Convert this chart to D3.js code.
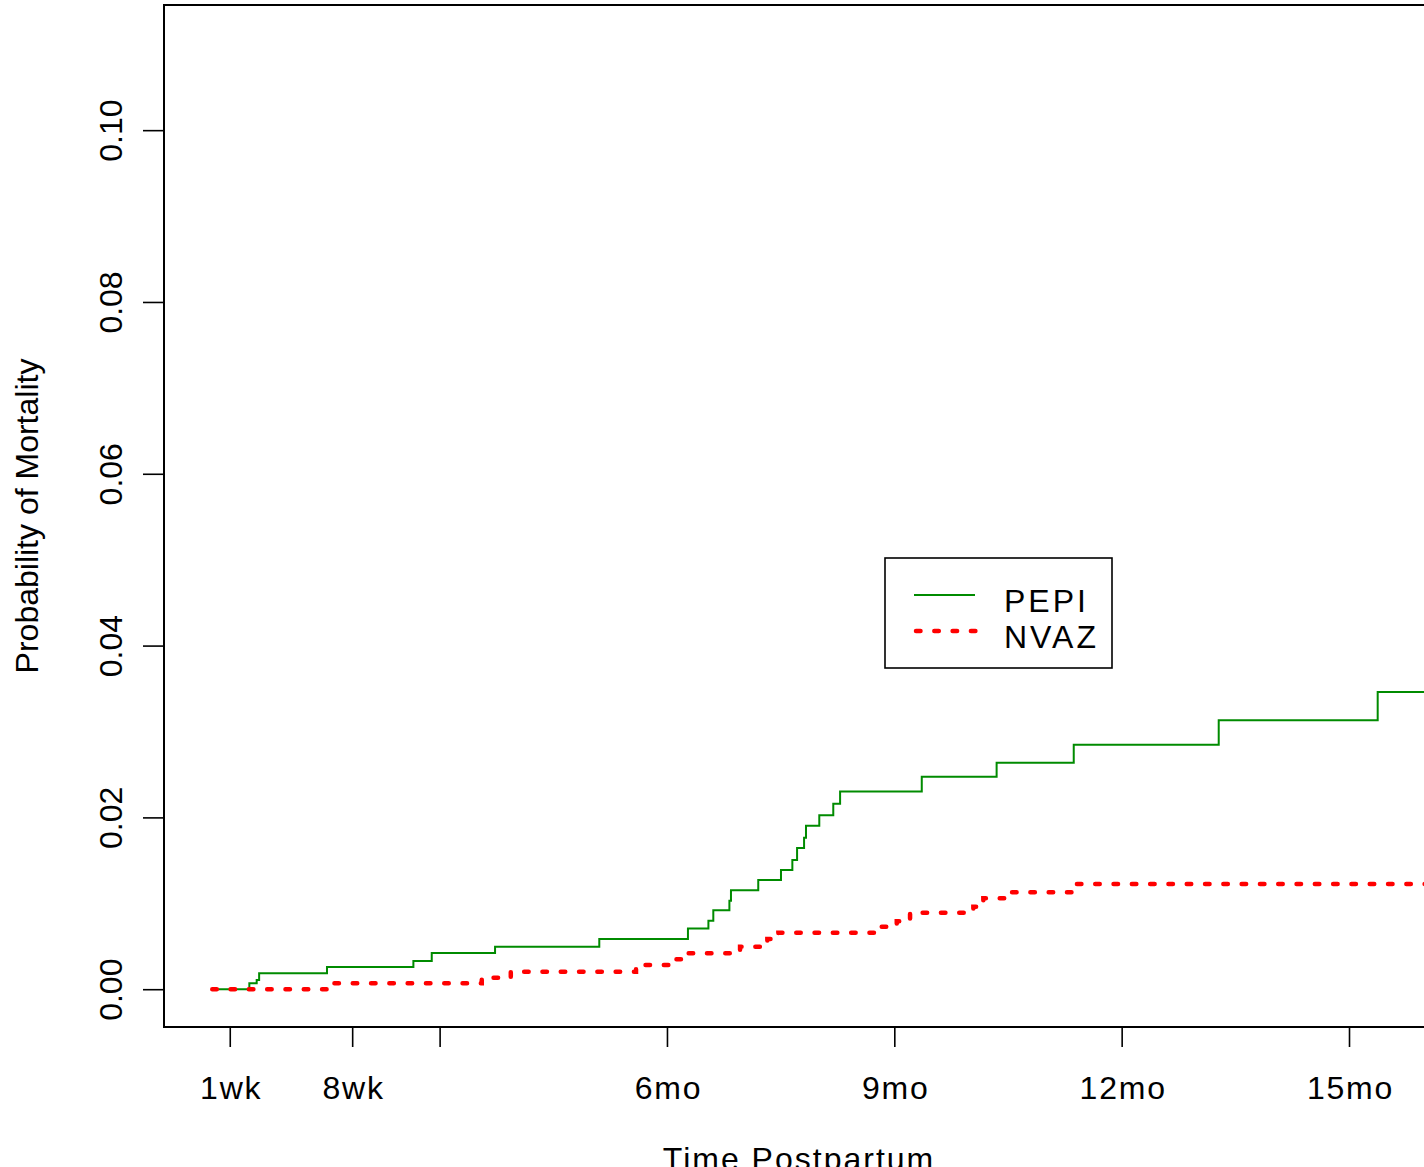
<!DOCTYPE html>
<html>
<head>
<meta charset="utf-8">
<script src="https://d3js.org/d3.v7.min.js"></script>
<style>
  body { margin: 0; background: #fff; }
  svg { display: block; }
  text { font-family: "Liberation Sans", Arial, sans-serif; fill: #000; }
</style>
</head>
<body>
<div id="chart"></div>
<script>
// time in weeks postpartum, cumulative probability of mortality
var pepiTimes = [0, 2.12, 2.54, 2.68, 6.56, 11.5, 12.55, 16.17, 22.13, 27.2, 28.37, 28.65, 29.57, 29.66,
  31.22, 32.52, 33.17, 33.44, 33.84, 33.95, 34.71, 35.51, 35.9, 40.57, 44.85, 49.26, 57.55, 66.64, 69.5];
var pepiValues = [0, 0.00069, 0.00107, 0.00185, 0.00258, 0.00328, 0.00421, 0.00495, 0.00584, 0.00707,
  0.00797, 0.00918, 0.0103, 0.01153, 0.01271, 0.01388, 0.01504, 0.01644, 0.01764, 0.01903, 0.02024,
  0.02159, 0.02302, 0.02474, 0.02637, 0.02846, 0.0313, 0.0346, 0.0346];

var nvazTimes = [0, 6.7, 15.41, 17.07, 24.23, 26.18, 26.84, 30.18, 31.74, 32.37, 37.9, 39.14, 39.9,
  43.52, 44.09, 45.33, 49.42, 69.5];
var nvazValues = [0, 0.00069, 0.00134, 0.00204, 0.00282, 0.00348, 0.00419, 0.00495, 0.00584, 0.00658,
  0.00728, 0.0079, 0.00891, 0.0096, 0.01059, 0.01128, 0.01225, 0.01225];

var xTicks = [1, 8, 13, 26, 39, 52, 65];
var xTickLabels = ["1wk", "8wk", "", "6mo", "9mo", "12mo", "15mo"];
var yTicks = [0, 0.02, 0.04, 0.06, 0.08, 0.10];
var yTickLabels = ["0.00", "0.02", "0.04", "0.06", "0.08", "0.10"];

var seriesNames = ["PEPI", "NVAZ"];

var svgWidth = 1424;
var svgHeight = 1167;

// plot region (the right edge runs a bit past the window)
var plot = { left: 164, top: 5, right: 1434, bottom: 1027 };

var svg = d3.select("#chart")
  .append("svg")
  .attr("width", svgWidth)
  .attr("height", svgHeight);

var xScale = d3.scaleLinear()
  .domain([-2.76, 69.86])
  .range([plot.left, plot.right]);

var yScale = d3.scaleLinear()
  .domain([-0.0044, 0.11457])
  .range([plot.bottom, plot.top]);

// x axis
var xAxis = d3.axisBottom(xScale)
  .tickValues(xTicks)
  .tickFormat(function(d, i) { return xTickLabels[i]; })
  .tickSize(20)
  .tickSizeOuter(0);

var xg = svg.append("g")
  .attr("transform", `translate(0, ${plot.bottom})`)
  .call(xAxis);
xg.select(".domain").remove();
xg.selectAll("line").attr("stroke", "#000").attr("stroke-width", 1.6);
xg.selectAll("text")
  .attr("x", 1)
  .attr("y", 72)
  .attr("dy", null)
  .attr("font-size", "32px")
  .attr("letter-spacing", "1.8px")
  .attr("font-family", "Liberation Sans, Arial, sans-serif")
  .attr("fill", "#000");

// y axis with rotated labels
var yAxis = d3.axisLeft(yScale)
  .tickValues(yTicks)
  .tickFormat(function(d, i) { return yTickLabels[i]; })
  .tickSize(21)
  .tickSizeOuter(0);

var yg = svg.append("g")
  .attr("transform", `translate(${plot.left}, 0)`)
  .call(yAxis);
yg.select(".domain").remove();
yg.selectAll("line").attr("stroke", "#000").attr("stroke-width", 1.6);
yg.selectAll("text")
  .attr("transform", "rotate(-90)")
  .attr("x", 0)
  .attr("y", -42)
  .attr("dy", null)
  .attr("text-anchor", "middle")
  .attr("font-size", "32px")
  .attr("font-family", "Liberation Sans, Arial, sans-serif")
  .attr("fill", "#000");

// step curves
var line = d3.line()
  .x(function(d) { return xScale(d[0]); })
  .y(function(d) { return yScale(d[1]); })
  .curve(d3.curveStepAfter);

var pepiData = pepiTimes.map(function(t, i) { return [t, pepiValues[i]]; });
var nvazData = nvazTimes.map(function(t, i) { return [t, nvazValues[i]]; });

svg.append("path")
  .datum(pepiData)
  .attr("d", line)
  .attr("fill", "none")
  .attr("stroke", "#008B00")
  .attr("stroke-width", 2);

svg.append("path")
  .datum(nvazData)
  .attr("d", line)
  .attr("fill", "none")
  .attr("stroke", "#FF0000")
  .attr("stroke-width", 4.5)
  .attr("stroke-linecap", "round")
  .attr("stroke-dasharray", "4.5,13.8");

// box around the plot
svg.append("rect")
  .attr("x", plot.left)
  .attr("y", plot.top)
  .attr("width", plot.right - plot.left)
  .attr("height", plot.bottom - plot.top)
  .attr("fill", "none")
  .attr("stroke", "#000")
  .attr("stroke-width", 2);

// axis titles
svg.append("text")
  .attr("transform", "rotate(-90)")
  .attr("x", -516)
  .attr("y", 38)
  .attr("text-anchor", "middle")
  .attr("font-size", "32px")
  .text("Probability of Mortality");

svg.append("text")
  .attr("x", (plot.left + plot.right) / 2)
  .attr("y", 1170)
  .attr("text-anchor", "middle")
  .attr("font-size", "32px")
  .attr("letter-spacing", "2px")
  .text("Time Postpartum");

// legend
var legend = svg.append("g");

legend.append("rect")
  .attr("x", 885)
  .attr("y", 558)
  .attr("width", 227)
  .attr("height", 110)
  .attr("fill", "#fff")
  .attr("stroke", "#000")
  .attr("stroke-width", 1.6);

legend.append("line")
  .attr("x1", 914).attr("x2", 975)
  .attr("y1", 595).attr("y2", 595)
  .attr("stroke", "#008B00")
  .attr("stroke-width", 2);

legend.append("line")
  .attr("x1", 916).attr("x2", 976)
  .attr("y1", 631).attr("y2", 631)
  .attr("stroke", "#FF0000")
  .attr("stroke-width", 4.5)
  .attr("stroke-linecap", "round")
  .attr("stroke-dasharray", "4.5,13.8");

legend.selectAll("text.lab")
  .data(seriesNames)
  .enter()
  .append("text")
  .attr("class", "lab")
  .attr("x", 1004)
  .attr("y", function(d, i) { return 611.7 + i * 36; })
  .attr("font-size", "32px")
  .attr("letter-spacing", "3px")
  .text(function(d) { return d; });
</script>
</body>
</html>
